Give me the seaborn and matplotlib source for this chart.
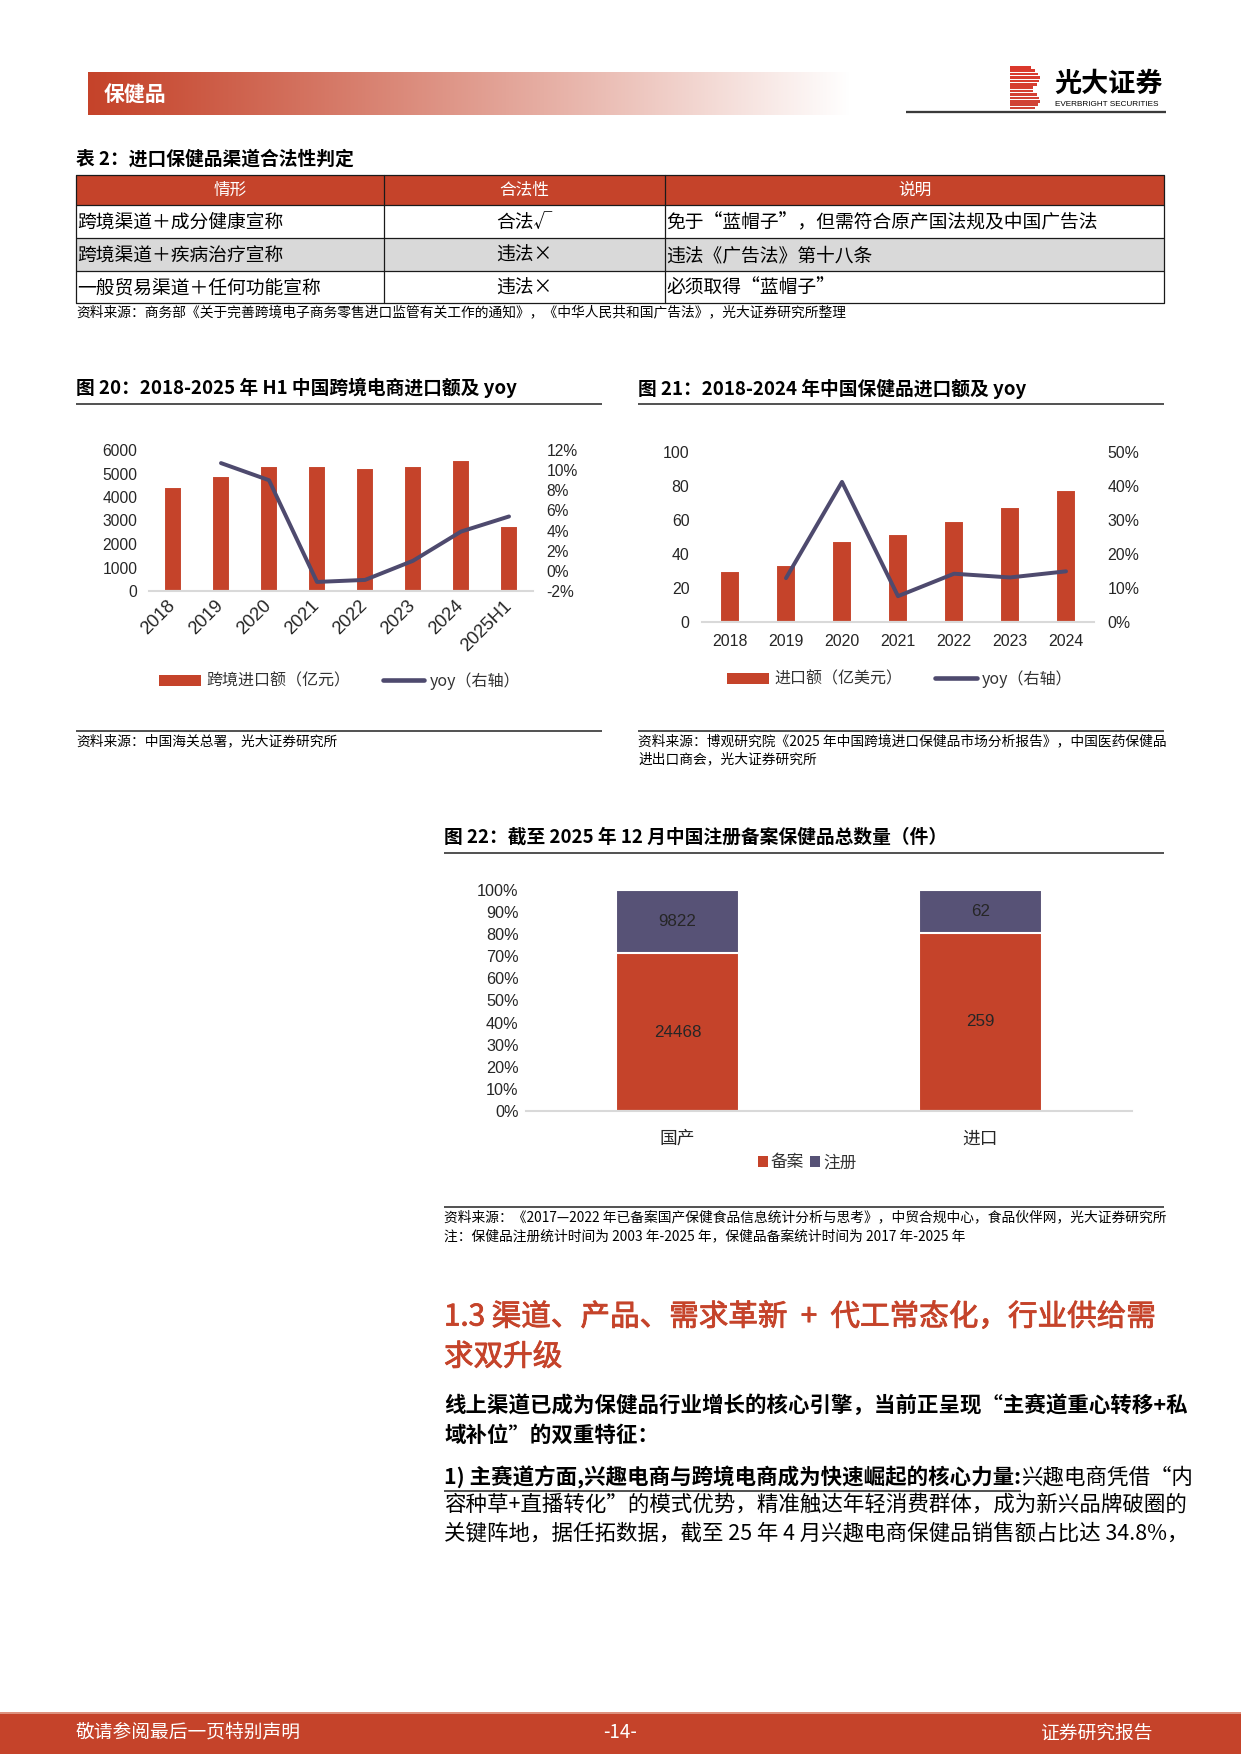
import numpy as np
import pandas as pd
import matplotlib
matplotlib.use("Agg")
import matplotlib.pyplot as plt
import seaborn as sns
from matplotlib.patches import Rectangle, Patch
from matplotlib.lines import Line2D
from matplotlib.ticker import FuncFormatter
from matplotlib import font_manager
from matplotlib.font_manager import FontProperties
import matplotlib.patheffects as pe

# ---------------- data ----------------
table_header = ["情形", "合法性", "说明"]
table_col1 = ["跨境渠道＋成分健康宣称", "跨境渠道＋疾病治疗宣称", "一般贸易渠道＋任何功能宣称"]
table_col2 = ["合法√", "违法×", "违法×"]
table_col3 = ["免于“蓝帽子”，但需符合原产国法规及中国广告法", "违法《广告法》第十八条", "必须取得“蓝帽子”"]

c20_years = ["2018", "2019", "2020", "2021", "2022", "2023", "2024", "2025H1"]
c20_import = [4440, 4910, 5340, 5300, 5250, 5340, 5580, 2770]
c20_yoy_years = ["2019", "2020", "2021", "2022", "2023", "2024", "2025H1"]
c20_yoy = [10.7, 9.0, -1.1, -0.9, 1.0, 3.9, 5.4]

c21_years = ["2018", "2019", "2020", "2021", "2022", "2023", "2024"]
c21_import = [30.2, 33.8, 47.9, 51.7, 59.2, 67.7, 77.5]
c21_yoy_years = ["2019", "2020", "2021", "2022", "2023", "2024"]
c21_yoy = [12.9, 41.2, 7.6, 14.2, 13.1, 14.9]

c22_groups = ["国产", "进口"]
c22_filed = [24468, 259]
c22_registered = [9822, 62]
c22_legend = ["备案", "注册"]

# ---------------- style ----------------
W, H, DPI = 1241, 1754, 150
sns.set_theme(style="white")
CJK = ["Noto Sans CJK SC", "DejaVu Sans"]
plt.rcParams["font.family"] = CJK
plt.rcParams["axes.unicode_minus"] = False


def has_font(name):
    try:
        font_manager.findfont(FontProperties(family=name), fallback_to_default=False)
        return True
    except Exception:
        return False


NUM = ["Liberation Sans", "Noto Sans CJK SC"]
NARROW_OK = has_font("Liberation Sans Narrow")
NARROW = ["Liberation Sans Narrow", "Noto Sans CJK SC"] if NARROW_OK else NUM

RED = "#C5432A"
NAVY = "#4E4A6E"
PURPLE = "#575276"
AXC = "#D9D9D9"
TXT = "#262626"

fig = plt.figure(figsize=(W / DPI, H / DPI), dpi=DPI)
page = fig.add_axes([0, 0, 1, 1])
page.axis("off")


def T(x, y, s, size, color="black", weight="normal", ha="left", va="center", family=CJK, **kw):
    return page.text(x, y, s, fontsize=size, color=color, fontweight=weight, ha=ha, va=va,
                     family=family, **kw)


def hline(x0, x1, y, color="#333333", lw=0.8):
    page.plot([x0, x1], [y, y], color=color, lw=lw, solid_capstyle="butt")


# ---------------- header ----------------
t = np.linspace(0, 1, 600) ** 1.1
red_rgb = np.array([197, 67, 42]) / 255.0
grad = red_rgb[None, :] * (1 - t[:, None]) + t[:, None]
page.imshow(grad[None, :, :], extent=[88, 850, 115, 72], aspect="auto", zorder=1)
T(104, 94, "保健品", 10, color="white", weight="bold")

# logo
for i, yy in enumerate(np.arange(66, 110, 3.4)):
    frac = (yy - 66) / 44
    width = 21 + 9 * abs(np.sin(np.pi * frac * 2))
    col = (0.86 - 0.05 * frac, 0.22 + 0.05 * frac, 0.17 + 0.05 * frac)
    page.add_patch(Rectangle((1010, yy), width, 2.6, color=col, lw=0, zorder=2))
T(1054, 84, "光大证券", 13, weight="bold")
T(1055, 104, "EVERBRIGHT SECURITIES", 3.9, family=NUM)
hline(906, 1166, 112, color="#3a3a3a", lw=1.1)

# ---------------- table ----------------
T(76, 159, "表 2：进口保健品渠道合法性判定", 9, weight="bold")
col_x = [76, 384, 665, 1164]
row_y = [175, 205, 238, 271, 303]
page.add_patch(Rectangle((col_x[0], row_y[0]), col_x[-1] - col_x[0], row_y[1] - row_y[0],
                         color=RED, lw=0, zorder=1))
page.add_patch(Rectangle((col_x[0], row_y[2]), col_x[-1] - col_x[0], row_y[3] - row_y[2],
                         color="#D9D9D9", lw=0, zorder=1))
for yy in row_y:
    hline(col_x[0], col_x[-1], yy, color="#1a1a1a", lw=0.6)
for xx in col_x:
    page.plot([xx, xx], [row_y[0], row_y[-1]], color="#1a1a1a", lw=0.6)
for j, h in enumerate(table_header):
    T((col_x[j] + col_x[j + 1]) / 2, (row_y[0] + row_y[1]) / 2, h, 8, color="white", ha="center")
for i in range(3):
    yc = (row_y[i + 1] + row_y[i + 2]) / 2 + 1
    T(col_x[0] + 1, yc, table_col1[i], 9)
    T((col_x[1] + col_x[2]) / 2, yc, table_col2[i], 9, ha="center")
    T(col_x[2] + 1, yc, table_col3[i], 9)
T(76, 312, "资料来源：商务部《关于完善跨境电子商务零售进口监管有关工作的通知》，《中华人民共和国广告法》，光大证券研究所整理", 6.6)

# ---------------- chart titles / sources ----------------
T(76, 388, "图 20：2018-2025 年 H1 中国跨境电商进口额及 yoy", 9, weight="bold")
hline(76, 602, 404)
T(638, 389, "图 21：2018-2024 年中国保健品进口额及 yoy", 9, weight="bold")
hline(638, 1164, 404)
hline(76, 602, 731)
T(76, 741, "资料来源：中国海关总署，光大证券研究所", 6.6)
hline(638, 1164, 731)
T(638, 741, "资料来源：博观研究院《2025 年中国跨境进口保健品市场分析报告》，中国医药保健品", 6.6)
T(638, 759, "进出口商会，光大证券研究所", 6.6)

T(444, 837, "图 22：截至 2025 年 12 月中国注册备案保健品总数量（件）", 9, weight="bold")
hline(444, 1164, 853)
hline(444, 1164, 1207)
T(444, 1217, "资料来源：《2017—2022 年已备案国产保健食品信息统计分析与思考》，中贸合规中心，食品伙伴网，光大证券研究所", 6.6)
T(444, 1236, "注：保健品注册统计时间为 2003 年-2025 年，保健品备案统计时间为 2017 年-2025 年", 6.6)


# ---------------- chart helpers ----------------
def px_axes(l, t_, r, b):
    return fig.add_axes([l / W, 1 - b / H, (r - l) / W, (b - t_) / H])


def style_axes(ax, labels, size, xpad, ypad, xfamily=NUM, yfamily=NUM):
    n = len(labels)
    for s in ["top", "left", "right"]:
        ax.spines[s].set_visible(False)
    ax.spines["bottom"].set_color(AXC)
    ax.spines["bottom"].set_linewidth(1.0)
    ax.set_xlim(-0.5, n - 0.5)
    ax.set_xticks(np.arange(n))
    ax.set_xticklabels(labels)
    ax.set_xticks(np.arange(n + 1) - 0.5, minor=True)
    ax.tick_params(axis="x", which="major", length=0, pad=xpad, labelsize=size,
                   labelcolor=TXT, labelfontfamily=xfamily)
    ax.tick_params(axis="x", which="minor", length=4, width=1.0, color=AXC, direction="out")
    ax.tick_params(axis="y", length=0, pad=ypad, labelsize=size, labelcolor=TXT,
                   labelfontfamily=yfamily)
    ax.set_xlabel("")
    ax.set_ylabel("")
    ax.grid(False)
    ax.set_facecolor("none")


def style_right(ax2, size, ypad):
    for s in ax2.spines.values():
        s.set_visible(False)
    ax2.tick_params(axis="y", length=0, pad=ypad, labelsize=size, labelcolor=TXT,
                    labelfontfamily=NUM)
    ax2.yaxis.set_major_formatter(FuncFormatter(lambda v, p: f"{v:.0f}%"))
    ax2.set_ylabel("")
    ax2.grid(False)


def bar_line_legend(cx, cy, bar_label):
    handles = [Patch(facecolor=RED, edgecolor="none"), Line2D([0], [0], color=NAVY, lw=2.2)]
    fig.legend(handles, [bar_label, "yoy（右轴）"], loc="center",
               bbox_to_anchor=(cx / W, 1 - cy / H), ncol=2, frameon=False,
               prop=FontProperties(family=CJK, size=7.7), labelcolor="#333333",
               handlelength=2.6, handleheight=0.65, handletextpad=0.35, columnspacing=2.0)


# ---------------- chart 20 ----------------
ax20 = px_axes(149, 450, 533, 591)
pos20 = np.arange(len(c20_years))
sns.barplot(x=pos20, y=c20_import, native_scale=True, color=RED, saturation=1,
            width=0.36, errorbar=None, ax=ax20)
ax20.set_ylim(0, 6000)
ax20.set_yticks(range(0, 6001, 1000))
style_axes(ax20, c20_years, 7.5, 6, 5.5)
ax20.tick_params(axis="x", which="major", labelsize=8.8)
plt.setp(ax20.get_xticklabels(), rotation=45, ha="right", va="center", rotation_mode="anchor")
ax20b = ax20.twinx()
sns.lineplot(x=[c20_years.index(y) for y in c20_yoy_years], y=c20_yoy, ax=ax20b,
             color=NAVY, lw=1.9)
ax20b.set_ylim(-2, 12)
ax20b.set_yticks(range(-2, 13, 2))
ax20b.set_xlim(-0.5, len(c20_years) - 0.5)
style_right(ax20b, 7.5, 6.5)
bar_line_legend(340, 681, "跨境进口额（亿元）")

# ---------------- chart 21 ----------------
ax21 = px_axes(702, 452, 1094, 622)
pos21 = np.arange(len(c21_years))
sns.barplot(x=pos21, y=c21_import, native_scale=True, color=RED, saturation=1,
            width=0.34, errorbar=None, ax=ax21)
ax21.set_ylim(0, 100)
ax21.set_yticks(range(0, 101, 20))
style_axes(ax21, c21_years, 7.6, 6, 6)
ax21b = ax21.twinx()
sns.lineplot(x=[c21_years.index(y) for y in c21_yoy_years], y=c21_yoy, ax=ax21b,
             color=NAVY, lw=1.9)
ax21b.set_ylim(0, 50)
ax21b.set_yticks(range(0, 51, 10))
ax21b.set_xlim(-0.5, len(c21_years) - 0.5)
style_right(ax21b, 7.6, 6.5)
bar_line_legend(900, 679, "进口额（亿美元）")

# ---------------- chart 22 ----------------
ax22 = px_axes(526, 890, 1132, 1111)
pos22 = np.arange(len(c22_groups))
tot22 = [f + r for f, r in zip(c22_filed, c22_registered)]
filed_share = [f / t_ * 100 for f, t_ in zip(c22_filed, tot22)]
reg_share = [r / t_ * 100 for r, t_ in zip(c22_registered, tot22)]
stack_top = [a + b for a, b in zip(filed_share, reg_share)]
sns.barplot(x=pos22, y=stack_top, native_scale=True, color=PURPLE, saturation=1,
            width=0.405, errorbar=None, ax=ax22)
sns.barplot(x=pos22, y=filed_share, native_scale=True, color=RED, saturation=1,
            width=0.405, errorbar=None, ax=ax22)
ax22.set_ylim(0, 100)
ax22.set_yticks(range(0, 101, 10))
ax22.yaxis.set_major_formatter(FuncFormatter(lambda v, p: f"{v:.0f}%"))
lab22 = 9 if NARROW_OK else 7.8
style_axes(ax22, c22_groups, lab22, 9, 3.5, xfamily=CJK, yfamily=NARROW)
ax22.tick_params(axis="x", which="major", labelsize=8.5)
ax22.bar_label(ax22.containers[1], labels=[str(v) for v in c22_filed], label_type="center",
               fontsize=lab22 + 0.4, color=TXT, family=NARROW)
for i in range(len(c22_groups)):
    ax22.text(pos22[i], filed_share[i] + reg_share[i] / 2, str(c22_registered[i]),
              ha="center", va="center", fontsize=lab22 + 0.4, color=TXT, family=NARROW)
fig.legend([Patch(facecolor=RED, edgecolor="none"), Patch(facecolor=PURPLE, edgecolor="none")],
           c22_legend, loc="center", bbox_to_anchor=(807 / W, 1 - 1163 / H), ncol=2,
           frameon=False, prop=FontProperties(family=CJK, size=8), labelcolor="#333333",
           handlelength=0.6, handleheight=0.6, handletextpad=0.15, columnspacing=0.4)

# ---------------- body text ----------------
semi = [pe.withStroke(linewidth=0.4, foreground=RED)]
T(444, 1317, "1.3 渠道、产品、需求革新  +  代工常态化，行业供给需", 14.2, color=RED,
  path_effects=semi)
T(444, 1357, "求双升级", 14.2, color=RED, path_effects=semi)
T(444, 1405, "线上渠道已成为保健品行业增长的核心引擎，当前正呈现“主赛道重心转移+私", 10.3, weight="bold")
T(444, 1435, "域补位”的双重特征：", 10.3, weight="bold")
bold_part = T(444, 1477, "1) 主赛道方面,兴趣电商与跨境电商成为快速崛起的核心力量:", 10.3, weight="bold")
T(444, 1505, "容种草+直播转化”的模式优势，精准触达年轻消费群体，成为新兴品牌破圈的", 10.3)
T(444, 1533, "关键阵地，据任拓数据，截至 25 年 4 月兴趣电商保健品销售额占比达 34.8%，", 10.3)

# ---------------- footer ----------------
page.add_patch(Rectangle((0, 1712), W, 42, color=RED, lw=0, zorder=1))
hline(0, W, 1712.5, color="#E3A190", lw=0.8)
T(76, 1733, "敬请参阅最后一页特别声明", 9, color="white")
T(620, 1733, "-14-", 9, color="white", ha="center")
T(1153, 1733, "证券研究报告", 9, color="white", ha="right")

page.set_xlim(0, W)
page.set_ylim(H, 0)

renderer = fig.canvas.get_renderer()
bb = bold_part.get_window_extent(renderer=renderer)
bw = bb.width
T(444 + bw, 1477, "兴趣电商凭借“内", 10.3)
hline(444, 444 + bw, 1491, color="#333333", lw=0.8)
page.set_xlim(0, W)
page.set_ylim(H, 0)

fig.savefig("out.png", dpi=DPI)
